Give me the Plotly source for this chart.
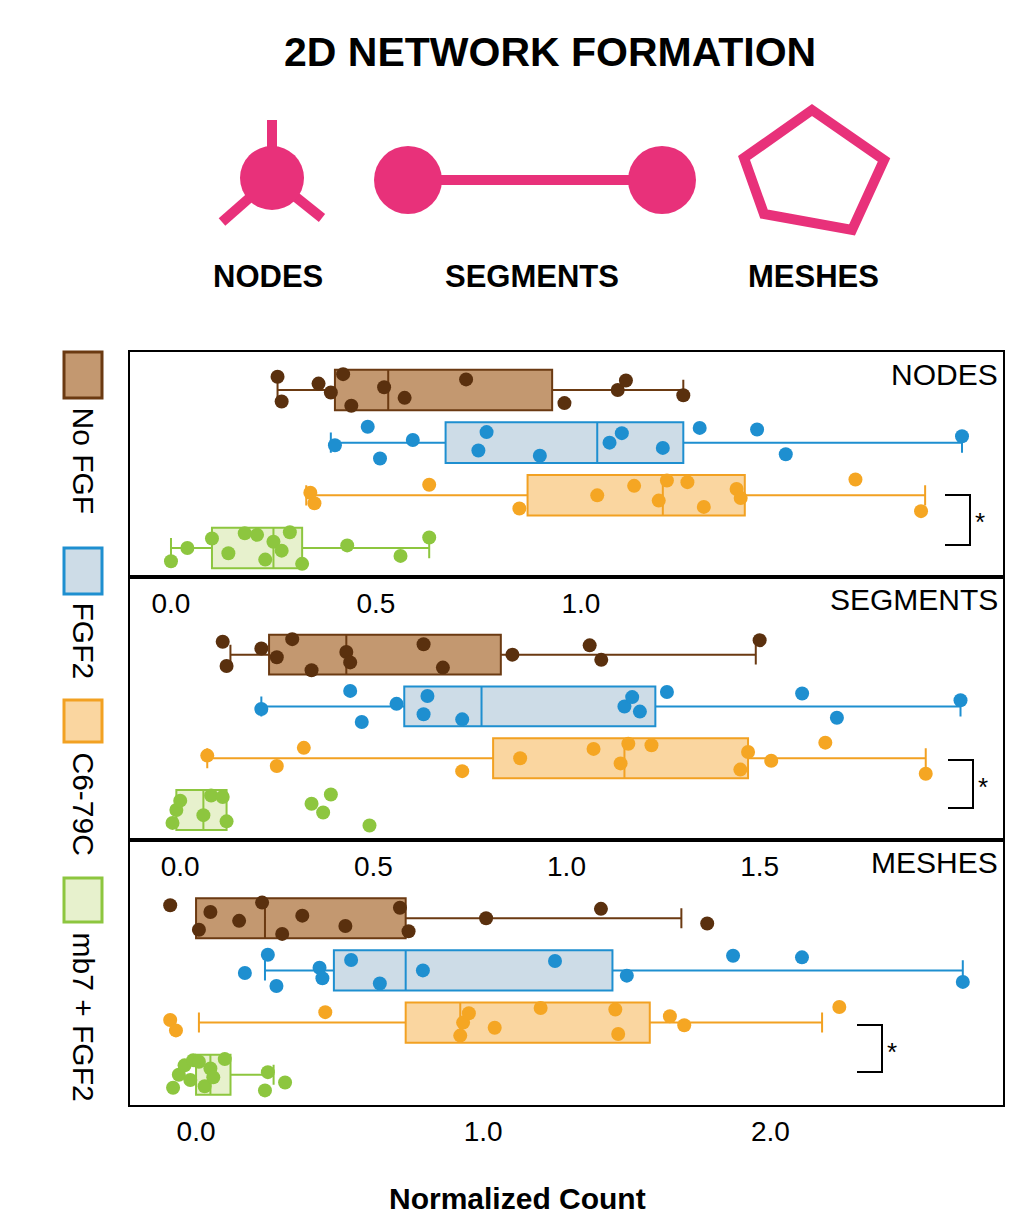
import plotly.graph_objects as go

W, H = 1000, 1216
OFF = 8  # page offset of the figure inside the browser window
groups = ["No FGF", "FGF2", "C6-79C", "mb7 + FGF2"]
panels = ["NODES", "SEGMENTS", "MESHES"]

# box stats per panel: [lowerfence, q1, median, q3, upperfence] per group
nodes_box = [[0.26, 0.40, 0.53, 0.93, 1.25], [0.39, 0.67, 1.04, 1.25, 1.93],
             [0.33, 0.87, 1.20, 1.40, 1.84], [0.00, 0.10, 0.25, 0.32, 0.63]]
segments_box = [[0.13, 0.23, 0.43, 0.83, 1.49], [0.21, 0.58, 0.78, 1.23, 2.02],
                [0.07, 0.81, 1.15, 1.47, 1.93], [-0.01, -0.01, 0.06, 0.12, 0.12]]
meshes_box = [[0.00, 0.00, 0.24, 0.73, 1.69], [0.24, 0.48, 0.73, 1.45, 2.67],
              [0.01, 0.73, 0.92, 1.58, 2.18], [0.00, 0.00, 0.05, 0.12, 0.27]]

nodes_pts = [
    [0.26, 0.27, 0.36, 0.39, 0.42, 0.44, 0.52, 0.57, 0.72, 0.96, 1.09, 1.11, 1.25],
    [0.40, 0.48, 0.51, 0.59, 0.75, 0.77, 0.90, 1.07, 1.10, 1.20, 1.29, 1.43, 1.50, 1.93],
    [0.34, 0.35, 0.63, 0.85, 1.04, 1.13, 1.19, 1.21, 1.26, 1.30, 1.38, 1.39, 1.67, 1.83],
    [0.00, 0.04, 0.10, 0.14, 0.18, 0.21, 0.23, 0.25, 0.27, 0.29, 0.32, 0.43, 0.56, 0.63]]
segments_pts = [
    [0.11, 0.12, 0.21, 0.25, 0.29, 0.34, 0.43, 0.44, 0.63, 0.68, 0.86, 1.06, 1.09, 1.50],
    [0.21, 0.44, 0.47, 0.56, 0.63, 0.64, 0.73, 1.15, 1.17, 1.19, 1.26, 1.61, 1.70, 2.02],
    [0.07, 0.25, 0.32, 0.73, 0.88, 1.07, 1.14, 1.16, 1.22, 1.45, 1.47, 1.53, 1.67, 1.93],
    [-0.02, -0.01, 0.00, 0.06, 0.08, 0.11, 0.12, 0.34, 0.37, 0.39, 0.49]]
meshes_pts = [
    [-0.09, 0.01, 0.05, 0.15, 0.23, 0.30, 0.37, 0.52, 0.71, 0.74, 1.01, 1.41, 1.78],
    [0.17, 0.25, 0.28, 0.43, 0.44, 0.54, 0.64, 0.79, 1.25, 1.50, 1.87, 2.11, 2.67],
    [-0.09, -0.07, 0.45, 0.92, 0.93, 0.95, 1.04, 1.20, 1.46, 1.47, 1.65, 1.70, 2.24],
    [-0.08, -0.06, -0.04, -0.02, -0.01, 0.01, 0.03, 0.05, 0.06, 0.10, 0.24, 0.25, 0.31]]

ranges = [[-0.10, 2.03], [-0.13, 2.13], [-0.23, 2.81]]
ticks = [[0.0, 0.5, 1.0], [0.0, 0.5, 1.0, 1.5], [0.0, 1.0, 2.0]]
yranges = [[-0.55, 3.72], [-0.58, 4.5], [-0.58, 4.5]]

line_c = ["#6B3A12", "#1E8FD0", "#F2A122", "#8DC63F"]
fill_c = ["rgba(184,134,87,0.85)", "rgba(200,216,228,0.9)", "rgba(250,210,150,0.9)", "rgba(228,240,200,0.9)"]
dot_c = ["#5A300E", "#1E8FD0", "#F5A623", "#8DC63F"]
pink = "#E8317A"
JIT = [0.25, -0.22, 0.12, -0.05, 0.3, -0.3, 0.05, -0.15, 0.2, -0.25, 0.0, 0.18, -0.1, 0.28]
FONT = "Liberation Sans"

px = lambda x: (x - OFF) / W
py = lambda y: 1 - (y - OFF) / H

fig = go.Figure()
bands = [(352, 577), (577, 840), (840, 1105)]
boxes = [nodes_box, segments_box, meshes_box]
pts = [nodes_pts, segments_pts, meshes_pts]

for p in range(3):
    sfx = "" if p == 0 else str(p + 1)
    for g in range(4):
        pos = 3 - g
        lf, q1, md, q3, uf = boxes[p][g]
        fig.add_trace(go.Box(
            y=[pos], q1=[q1], median=[md], q3=[q3], lowerfence=[lf], upperfence=[uf],
            orientation="h", width=0.77, fillcolor=fill_c[g],
            line=dict(color=line_c[g], width=2), whiskerwidth=0.5,
            xaxis="x" + sfx, yaxis="y" + sfx, showlegend=False, hoverinfo="skip"))
        vals = pts[p][g]
        fig.add_trace(go.Scatter(
            x=vals, y=[pos + JIT[(i + g * 3) % len(JIT)] for i in range(len(vals))],
            mode="markers", marker=dict(color=dot_c[g], size=14),
            xaxis="x" + sfx, yaxis="y" + sfx, showlegend=False))
    top, bot = bands[p]
    fig.layout["xaxis" + sfx] = dict(domain=[px(130), px(1003)], anchor="y" + sfx,
        range=ranges[p], tickvals=ticks[p], ticktext=[f"{t:.1f}" for t in ticks[p]],
        showgrid=False, zeroline=False, showline=True, mirror=True, linecolor="black",
        linewidth=2, ticks="", tickfont=dict(size=28, color="black", family=FONT))
    fig.layout["yaxis" + sfx] = dict(domain=[py(bot), py(top)], anchor="x" + sfx, range=yranges[p],
        showticklabels=False, showgrid=False, zeroline=False, showline=True, mirror=True,
        linecolor="black", linewidth=2, ticks="")
    fig.add_annotation(x=px(1000), y=py(top + 4), xref="paper", yref="paper", text=panels[p],
                       showarrow=False, xanchor="right", yanchor="top",
                       font=dict(size=30, color="black", family=FONT))

# significance brackets
for (bx, y1, y2) in [(970, 495, 545), (973, 760, 808), (882, 1025, 1072)]:
    fig.add_shape(type="path", xref="paper", yref="paper", line=dict(color="black", width=2),
                  path=f"M {px(bx-25)},{py(y1)} L {px(bx)},{py(y1)} L {px(bx)},{py(y2)} L {px(bx-25)},{py(y2)}")
    fig.add_annotation(x=px(bx + 3), y=py(y1 + 10), xref="paper", yref="paper", text="*",
                       showarrow=False, xanchor="left", yanchor="top",
                       font=dict(size=26, color="black", family=FONT))

# legend, rotated
leg = [(352, 398, 405), (548, 594, 600), (700, 742, 750), (878, 922, 930)]
for g, (s0, s1, t0) in enumerate(leg):
    fig.add_shape(type="rect", xref="paper", yref="paper", x0=px(64), x1=px(102), y0=py(s1), y1=py(s0),
                  fillcolor=fill_c[g], line=dict(color=line_c[g], width=3))
    fig.add_annotation(x=px(83), y=py(t0), xref="paper", yref="paper", text=groups[g], textangle=90,
                       showarrow=False, xanchor="center", yanchor="top",
                       font=dict(size=30, color="black", family=FONT))

# title and icons
fig.add_annotation(x=px(550), y=py(52), xref="paper", yref="paper", text="<b>2D NETWORK FORMATION</b>",
                   showarrow=False, xanchor="center", yanchor="middle",
                   font=dict(size=41, color="black", family=FONT))
for txt, x in [("NODES", 268), ("SEGMENTS", 532), ("MESHES", 813)]:
    fig.add_annotation(x=px(x), y=py(277), xref="paper", yref="paper", text=f"<b>{txt}</b>",
                       showarrow=False, xanchor="center", yanchor="middle",
                       font=dict(size=31, color="black", family=FONT))


def circ(cx, cy, r):
    fig.add_shape(type="circle", xref="paper", yref="paper", x0=px(cx - r), x1=px(cx + r),
                  y0=py(cy + r), y1=py(cy - r), fillcolor=pink, line=dict(width=0))


def seg(x0, y0, x1, y1, w=10):
    fig.add_shape(type="line", xref="paper", yref="paper", x0=px(x0), y0=py(y0), x1=px(x1), y1=py(y1),
                  line=dict(color=pink, width=w))


seg(272, 120, 272, 175)
seg(272, 178, 222, 222)
seg(272, 178, 322, 218)
circ(272, 178, 32)
seg(408, 180, 662, 180)
circ(408, 180, 34)
circ(662, 180, 34)
pent = [(812, 110), (884, 160), (852, 230), (764, 214), (744, 158)]
path = "M " + " L ".join(f"{px(a)},{py(b)}" for a, b in pent) + " Z"
fig.add_shape(type="path", xref="paper", yref="paper", path=path, line=dict(color=pink, width=10))

fig.add_annotation(x=px(517), y=py(1198), xref="paper", yref="paper", text="<b>Normalized Count</b>",
                   showarrow=False, xanchor="center", yanchor="middle",
                   font=dict(size=30, color="black", family=FONT))

fig.update_layout(width=W, height=H, margin=dict(l=0, r=0, t=0, b=0),
                  plot_bgcolor="white", paper_bgcolor="white")
fig.write_html("out.html")
